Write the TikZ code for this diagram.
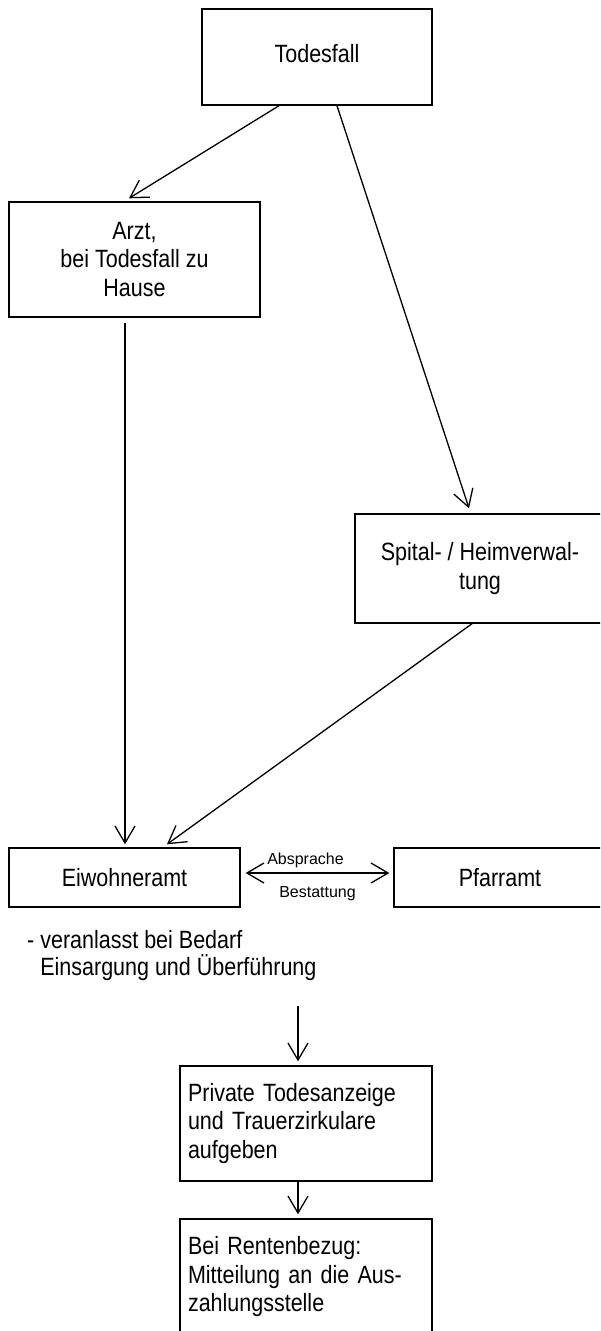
\documentclass[tikz,border=0pt]{standalone}
\usepackage{fontspec}
\setmainfont{Liberation Sans}[FakeStretch=0.86]
\newfontfamily\smallsans{Liberation Sans}
\usetikzlibrary{calc,arrows.meta}

\tikzset{
  >={Straight Barb[length=17pt,width=20pt]},
  box/.style={draw,line width=1.4pt,inner sep=0pt,align=center,
    font=\fontsize{25}{28.5}\selectfont},
  leftbox/.style={box,align=left,text width=236pt,inner xsep=8pt},
  arr/.style={line width=1.3pt,->},
  lab/.style={font=\smallsans\fontsize{16}{18}\selectfont,inner sep=0pt,anchor=base}
}

\begin{document}
\begin{tikzpicture}[x=1pt,y=-1pt]
    \useasboundingbox (0,0) rectangle (600,1331);
    \clip (0,0) rectangle (600,1331); % right and bottom boxes run off the page

    \node[box,minimum width=230pt,minimum height=96pt,text depth=8pt] (todes) at (317,57) {Todesfall};
    \node[box,minimum width=251pt,minimum height=115pt] (arzt) at (134.5,259.5)
        {Arzt,\\bei Todesfall zu\\Hause};
    \node[box,minimum width=250pt,minimum height=109pt] (spital) at (480,568.5)
        {Spital- / Heimverwal-\\tung};
    \node[box,minimum width=231pt,minimum height=59pt] (einw) at (124.5,877.5) {Eiwohneramt};
    \node[box,minimum width=212pt,minimum height=59pt] (pfarr) at (500,877.5) {Pfarramt};

    \node[anchor=base west,align=left,inner sep=0pt,font=\fontsize{25}{27}\selectfont]
        (note) at (27,975) {- veranlasst bei Bedarf\\\hphantom{-\ }Einsargung und Überführung};

    \node[leftbox,minimum height=115pt] (anzeige) at (306,1123.5)
        {Private Todesanzeige\\und Trauerzirkulare\\aufgeben};
    \node[leftbox,minimum height=116pt] (rente) at (306,1277)
        {Bei Rentenbezug:\\\makebox[209pt][s]{Mitteilung an die Aus-}\\zahlungsstelle};

    % connectors
    \draw[arr] ($(todes.south)+(-38,0)$) -- ($(arzt.north)+(-5.5,-3)$);
    \draw[arr] ($(todes.south)+(20,0)$) -- ($(spital.north)+(-11,-5)$);
    \draw[arr] ($(arzt.south)+(-9.5,5)$) -- ($(einw.north)+(0.5,-3)$);
    \draw[arr] ($(spital.south)+(-8,0)$) -- ($(einw.north)+(42.5,-3)$);
    \draw[arr,<->] ($(einw.east)+(5,-4.5)$) -- ($(pfarr.west)+(-4,-4.5)$)
        node[lab,midway,xshift=-12pt,yshift=9pt] {Absprache}
        node[lab,midway,yshift=-24pt] {Bestattung};

    \coordinate (down) at ($(anzeige.north)+(-8,-59)$);
    \draw[arr] (down) -- ($(anzeige.north)+(-8,-4)$);
    \draw[arr] ($(anzeige.south)+(-8,0)$) -- ($(rente.north)+(-8,-4)$);
\end{tikzpicture}
\end{document}
